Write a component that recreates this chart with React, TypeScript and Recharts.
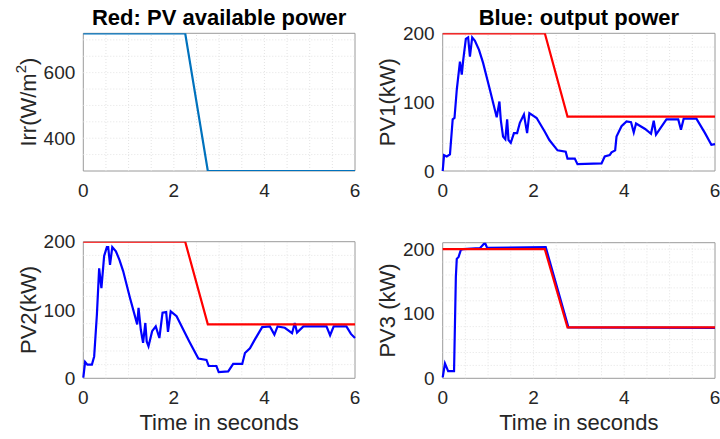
import React from "react";
import { LineChart, Line, XAxis, YAxis, ReferenceLine, ReferenceArea, Label } from "recharts";

const FONT = "'Liberation Sans', Arial, Helvetica, sans-serif";
const TEXT = "#262626";

// shared time axis (s)
const timeTicks = [0, 2, 4, 6];
const timeGrid = [0.5, 1, 1.5, 2, 2.5, 3, 3.5, 4, 4.5, 5, 5.5];

// solar irradiance profile (W/m^2)
const irrTime = [0, 2.25, 2.75, 6];
const irrValue = [720, 720, 300, 300];

// available PV power, identical for the three arrays (kW)
const availTime = [0, 2.25, 2.75, 6];
const availPower = [200, 200, 79, 79];

// PV1 output (kW)
const pv1Time = [0, 0.03, 0.09, 0.16, 0.22, 0.26, 0.31, 0.38, 0.42, 0.45, 0.51, 0.56, 0.6, 0.65, 0.71, 0.8, 0.89, 1.04, 1.19, 1.25, 1.28, 1.33, 1.38, 1.42, 1.45, 1.5, 1.57, 1.64, 1.7, 1.79, 1.86, 1.91, 2.07, 2.25, 2.35, 2.53, 2.71, 2.75, 2.91, 2.97, 3.5, 3.57, 3.68, 3.72, 3.8, 3.83, 3.94, 4.05, 4.15, 4.21, 4.26, 4.46, 4.59, 4.65, 4.7, 4.93, 5.19, 5.25, 5.31, 5.59, 5.78, 5.92, 6];
const pv1Power = [0, 23, 21, 24, 75, 77, 118, 159, 140, 160, 192, 194, 166, 194, 189, 176, 157, 118, 78, 101, 74, 50, 46, 75, 45, 41, 55, 55, 70, 82, 55, 84, 77, 57, 45, 30, 28, 18, 18, 10, 11, 21, 23, 27, 30, 50, 65, 72, 71, 56, 69, 61, 54, 73, 53, 75, 75, 60, 76, 76, 55, 38, 39];

// PV2 output (kW)
const pv2Time = [0, 0.04, 0.09, 0.19, 0.24, 0.3, 0.35, 0.4, 0.46, 0.52, 0.55, 0.59, 0.64, 0.72, 0.8, 0.88, 1.03, 1.19, 1.22, 1.27, 1.32, 1.37, 1.4, 1.44, 1.52, 1.6, 1.68, 1.75, 1.83, 1.87, 1.93, 2.06, 2.24, 2.34, 2.54, 2.72, 2.77, 2.94, 2.99, 3.2, 3.31, 3.51, 3.57, 3.68, 3.79, 3.95, 4.12, 4.22, 4.29, 4.45, 4.61, 4.67, 4.72, 4.86, 5.37, 5.45, 5.53, 5.81, 5.91, 6];
const pv2Power = [1, 24, 20, 20, 32, 93, 161, 132, 179, 192, 192, 166, 192, 186, 173, 157, 118, 79, 103, 71, 52, 81, 54, 47, 69, 76, 59, 96, 97, 68, 98, 91, 67, 54, 29, 27, 18, 18, 9, 10, 21, 21, 37, 44, 57, 75, 76, 64, 76, 74, 66, 81, 67, 76, 76, 63, 76, 76, 65, 59];

// PV3 output (kW)
const pv3Time = [0, 0.05, 0.12, 0.25, 0.29, 0.31, 0.35, 0.4, 0.45, 0.82, 0.93, 0.98, 2.27, 2.77, 6];
const pv3Power = [1.5, 23, 11, 11, 157, 185, 188, 199, 200, 201.5, 210, 202, 203, 79, 78];

const pvGrid = [20, 40, 60, 80, 100, 120, 140, 160, 180];

const toPoints = (t: number[], v: number[]) => t.map((x, i) => ({ t: x, v: v[i] }));

type Series = { t: number[]; v: number[]; color: string };

type PanelProps = {
  x: number;
  y: number;
  margin: { top: number; right: number; bottom: number; left: number };
  xAxisHeight: number;
  yDomain: [number, number];
  yTicks: number[];
  yGrid: number[];
  yLabel: React.ReactNode;
  title?: string;
  xLabel?: string;
  series: Series[];
};

const tickStyle = { fontSize: 19, fill: TEXT, fontFamily: FONT };

function YTitle({ viewBox, children }: any) {
  const cx = viewBox.x + viewBox.width - 55;
  const cy = viewBox.y + viewBox.height / 2;
  return (
    <text
      x={cx}
      y={cy}
      transform={`rotate(-90 ${cx} ${cy})`}
      textAnchor="middle"
      dominantBaseline="central"
      fontSize={22}
      fontFamily={FONT}
      fill={TEXT}
    >
      {children}
    </text>
  );
}

function Panel(p: PanelProps) {
  const W = 380;
  const H = 220;
  const plotLeft = p.margin.left + 60;
  const plotWidth = W - p.margin.right - plotLeft;
  return (
    <div style={{ position: "absolute", left: p.x, top: p.y, width: W, height: H }}>
      {p.title && (
        <div
          style={{
            position: "absolute",
            left: plotLeft,
            width: plotWidth,
            top: 7,
            textAlign: "center",
            fontFamily: FONT,
            fontWeight: "bold",
            fontSize: 22,
            lineHeight: "22px",
            color: "#000",
          }}
        >
          {p.title}
        </div>
      )}
      <LineChart width={W} height={H} margin={p.margin}>
        <XAxis
          type="number"
          dataKey="t"
          domain={[0, 6]}
          ticks={timeTicks}
          axisLine={false}
          tickLine={false}
          tickMargin={6.5}
          height={p.xAxisHeight}
          tick={tickStyle}
          allowDuplicatedCategory={false}
        >
          {p.xLabel && (
            <Label
              value={p.xLabel}
              position="insideBottom"
              offset={-5}
              style={{ fontSize: 22, fill: TEXT, fontFamily: FONT }}
            />
          )}
        </XAxis>
        <YAxis
          type="number"
          dataKey="v"
          domain={p.yDomain}
          ticks={p.yTicks}
          axisLine={false}
          tickLine={false}
          width={60}
          tick={tickStyle}
          allowDataOverflow
        >
          <Label content={(props: any) => <YTitle viewBox={props.viewBox}>{p.yLabel}</YTitle>} />
        </YAxis>
        {timeGrid.map((g) => (
          <ReferenceLine key={`x${g}`} x={g} stroke="#e3e3e3" strokeDasharray="1 2" />
        ))}
        {p.yGrid.map((g) => (
          <ReferenceLine key={`y${g}`} y={g} stroke="#e3e3e3" strokeDasharray="1 2" />
        ))}
        {p.series.map((s, i) => (
          <Line
            key={i}
            data={toPoints(s.t, s.v)}
            dataKey="v"
            type="linear"
            stroke={s.color}
            strokeWidth={2.2}
            dot={false}
            activeDot={false}
            isAnimationActive={false}
          />
        ))}
        <ReferenceArea
          x1={0}
          x2={6}
          y1={p.yDomain[0]}
          y2={p.yDomain[1]}
          fill="none"
          fillOpacity={0}
          stroke="#9a9a9a"
          strokeWidth={1}
        />
      </LineChart>
    </div>
  );
}

export default function App() {
  return (
    <div
      style={{
        position: "fixed",
        left: 0,
        top: 0,
        width: 720,
        height: 439,
        background: "#fff",
        overflow: "hidden",
      }}
    >
      <Panel
        x={0}
        y={0}
        margin={{ top: 33.3, right: 25, bottom: 19, left: 23.3 }}
        xAxisHeight={30}
        yDomain={[300, 720]}
        yTicks={[400, 600]}
        yGrid={[350, 400, 450, 500, 550, 600, 650, 700]}
        yLabel={
          <>
            Irr(W/m<tspan dy={-8} fontSize={15}>2</tspan>
            <tspan dy={8}>)</tspan>
          </>
        }
        title="Red: PV available power"
        series={[{ t: irrTime, v: irrValue, color: "#0072BD" }]}
      />
      <Panel
        x={360}
        y={0}
        margin={{ top: 33.3, right: 25, bottom: 19, left: 22.7 }}
        xAxisHeight={30}
        yDomain={[0, 200]}
        yTicks={[0, 100, 200]}
        yGrid={pvGrid}
        yLabel="PV1(kW)"
        title="Blue: output power"
        series={[
          { t: pv1Time, v: pv1Power, color: "#0000FF" },
          { t: availTime, v: availPower, color: "#FF0000" },
        ]}
      />
      <Panel
        x={0}
        y={220}
        margin={{ top: 21.7, right: 25, bottom: 15.4, left: 23.3 }}
        xAxisHeight={46.3}
        yDomain={[0, 200]}
        yTicks={[0, 100, 200]}
        yGrid={pvGrid}
        yLabel="PV2(kW)"
        xLabel="Time in seconds"
        series={[
          { t: pv2Time, v: pv2Power, color: "#0000FF" },
          { t: availTime, v: availPower, color: "#FF0000" },
        ]}
      />
      <Panel
        x={360}
        y={220}
        margin={{ top: 22.7, right: 25, bottom: 15.4, left: 22.7 }}
        xAxisHeight={46.3}
        yDomain={[0, 210]}
        yTicks={[0, 100, 200]}
        yGrid={[...pvGrid, 200]}
        yLabel="PV3 (kW)"
        xLabel="Time in seconds"
        series={[
          { t: pv3Time, v: pv3Power, color: "#0000FF" },
          { t: availTime, v: availPower, color: "#FF0000" },
        ]}
      />
    </div>
  );
}
